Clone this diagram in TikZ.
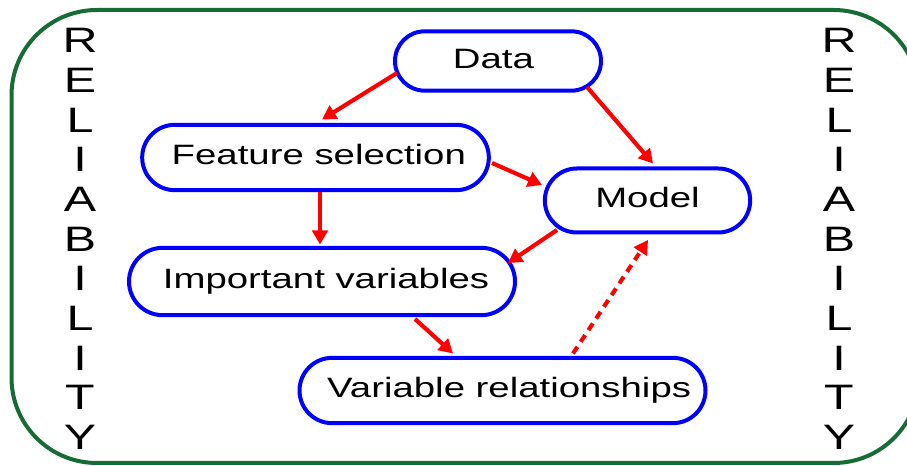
\documentclass[tikz,border=0pt]{standalone}
\usepackage{fontspec}
\setmainfont[FakeStretch=1.37]{Liberation Sans}
\usetikzlibrary{arrows.meta,calc,shapes.misc}

\tikzset{every picture/.style={line width=0.75pt}}
\tikzset{
	stadium/.style={draw={rgb, 255:red, 0; green, 0; blue, 255 }, line width=3pt, rounded rectangle, inner sep=0pt,
		font=\fontsize{21}{25}\selectfont, text height=15.3pt, text depth=4.4pt},
	flow/.style={draw={rgb, 255:red, 255; green, 0; blue, 0 }, line width=3.1pt,
		-{Triangle[length=10.5pt,width=11.5pt]}},
	letter/.style={inner sep=0pt, font=\fontsize{26.5}{30}\selectfont}}

\begin{document}
\begin{tikzpicture}[x=0.75pt,y=0.75pt,yscale=-1,xscale=1]
	\clip (0,0) rectangle (907,466);

	%Rounded Rect [id:frame] 
	\draw [color={rgb, 255:red, 22; green, 108; blue, 52 }, line width=3pt, rounded corners=64pt] (11.5,10) rectangle (919,463) ;

	% Text Node
	\node [stadium, minimum width=154.5pt, minimum height=44.5pt] (data) at (498,61) {\makebox[0pt]{\hspace*{-7pt}Data}};
	% Text Node
	\node [stadium, minimum width=260pt, minimum height=49pt] (feat) at (315.5,157.5) {\makebox[0pt]{\hspace*{5pt}Feature selection}};
	% Text Node
	\node [stadium, minimum width=154pt, minimum height=48pt] (model) at (647.5,200.5) {\makebox[0pt]{Model}};
	% Text Node
	\node [stadium, minimum width=289.5pt, minimum height=50.5pt] (impvar) at (322,281.5) {\makebox[0pt]{\hspace*{6pt}Important variables}};
	% Text Node
	\node [stadium, minimum width=304.5pt, minimum height=49pt] (varrel) at (502.5,390.5) {\makebox[0pt]{\hspace*{10pt}Variable relationships}};

	%Straight Lines
	\draw [flow] ($(data)+(-101,12)$) -- ($(feat)+(6.5,-38)$) ;
	\draw [flow] ($(data)+(89,26)$) -- ($(model)+(5.5,-37)$) ;
	\draw [flow] ($(feat)+(176.5,5.5)$) -- ($(model)+(-105.5,-15.5)$) ;
	\draw [flow] ($(feat)+(4.5,34.5)$) -- ($(impvar)+(-2,-37)$) ;
	\draw [flow] ($(model)+(-90.5,29.5)$) -- ($(impvar)+(186,-18.5)$) ;
	\draw [flow] ($(impvar)+(93,37.5)$) -- ($(varrel)+(-49.5,-37)$) ;
	\draw [flow, dash pattern={on 6pt off 4.5pt}] ($(varrel)+(70.5,-37)$) -- ($(model)+(0.5,39.5)$) ;

	% Text Node
	\foreach \ch [count=\i] in {R,E,L,I,A,B,I,L,I,T,Y} {
		\node [letter] (relL\i) at (80,{0.8+39.7*\i}) {\ch};
		\node [letter] (relR\i) at (839,{0.8+39.7*\i}) {\ch};
	}

\end{tikzpicture}
\end{document}
